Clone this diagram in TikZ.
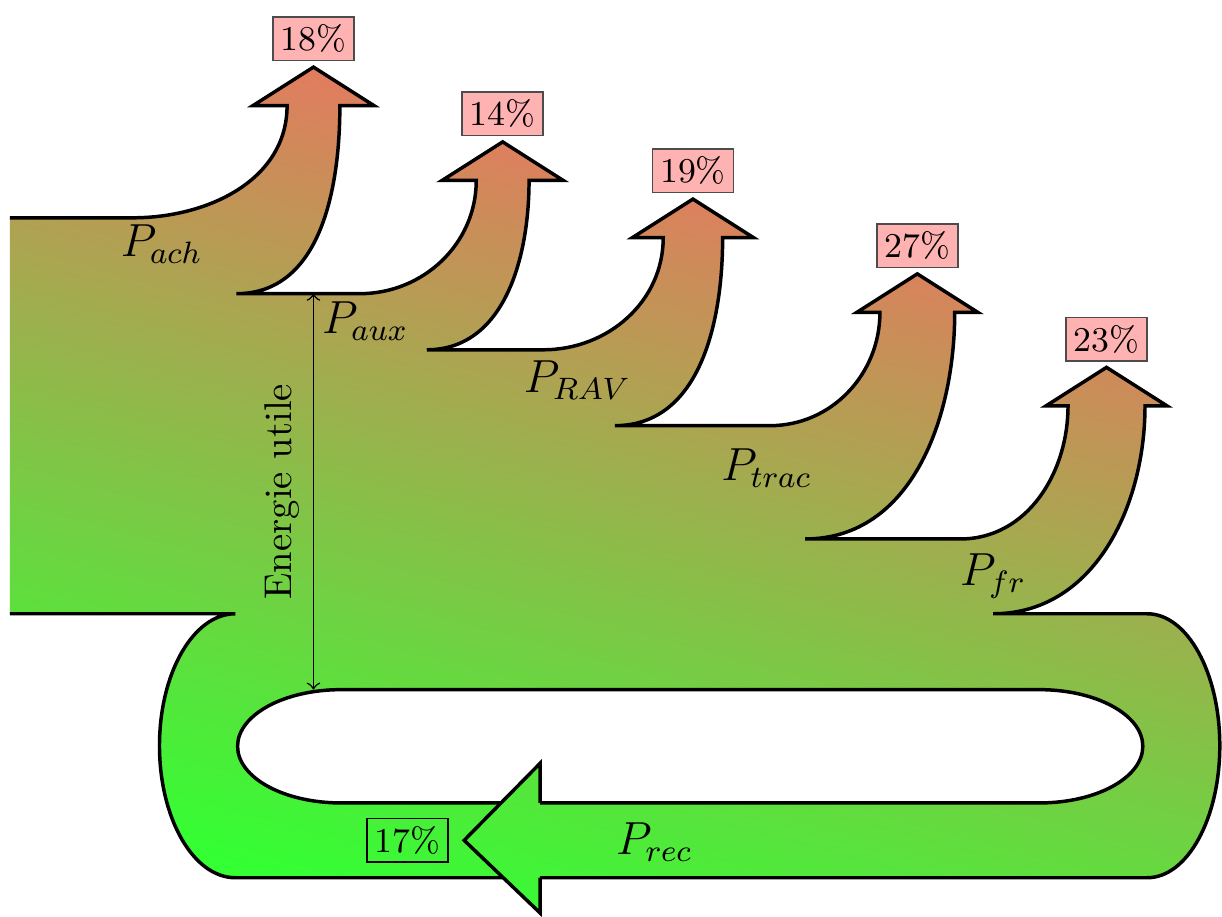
\documentclass[tikz,border=0pt]{standalone}
\usepackage{tikz}
\usetikzlibrary{positioning}

% upper contour of the flow: the five outgoing branches, then the right end of the loop
\newcommand{\flowtop}{%
  (0.09,6.35) -- (1.21,6.35) to[out=0,in=-90] (2.61,7.37) -- (2.30,7.37) -- (tip1) -- (3.40,7.37) -- (3.09,7.37)
  to[out=-90,in=0] (2.15,5.66) -- (3.27,5.66) to[out=0,in=-90] (4.33,6.69) -- (4.02,6.69) -- (tip2) -- (5.12,6.69) -- (4.81,6.69)
  to[out=-90,in=0] (3.88,5.15) -- (4.94,5.15) to[out=0,in=-90] (6.03,6.17) -- (5.75,6.17) -- (tip3) -- (6.85,6.17) -- (6.57,6.17)
  to[out=-90,in=0] (5.59,4.46) -- (7.00,4.46) to[out=0,in=-90] (8.00,5.49) -- (7.79,5.49) -- (tip4) -- (8.89,5.49) -- (8.68,5.49)
  to[out=-90,in=0] (7.32,3.43) -- (8.73,3.43) to[out=0,in=-90] (9.71,4.64) -- (9.51,4.64) -- (tip5) -- (10.61,4.64) -- (10.41,4.64)
  to[out=-90,in=0] (9.03,2.75) -- (10.43,2.75) arc[start angle=90, end angle=-90, x radius=0.66, y radius=1.2]}

\tikzset{
  flow/.style={top color=red!60, bottom color=green!80, shading angle=-15},
  edgeline/.style={line width=0.9pt},
  pct/.style={draw=black!70, fill=red!30, inner sep=2pt, font=\small},
  lbl/.style={font=\large},
}

\begin{document}
\begin{tikzpicture}
    \useasboundingbox (0,0) rectangle (11.11,8.33);

    \coordinate (tip1) at (2.85,7.72);
    \coordinate (tip2) at (4.57,7.04);
    \coordinate (tip3) at (6.30,6.52);
    \coordinate (tip4) at (8.34,5.84);
    \coordinate (tip5) at (10.06,4.99);
    \coordinate (rectip) at (4.22,0.69);

    % Flow with the hole of the loop and the recovery arrow head
    \shade[flow] \flowtop -- (2.14,0.35)
        arc[start angle=270, end angle=90, x radius=0.69, y radius=1.2] -- (0.09,2.75) -- cycle
        (9.45,2.06) -- (3.10,2.06) arc[start angle=90, end angle=270, x radius=0.94, y radius=0.515]
        -- (9.45,1.03) arc[start angle=-90, end angle=90, x radius=0.94, y radius=0.515] -- cycle
        (4.91,1.39) -- (4.91,0.03) -- (rectip) -- cycle;

    % Contours
    \draw[edgeline] \flowtop -- (4.91,0.35);
    \draw[edgeline] (4.575,0.35) -- (2.14,0.35)
        arc[start angle=270, end angle=90, x radius=0.69, y radius=1.2] -- (0.09,2.75);
    \draw[edgeline] (4.91,1.03) -- (9.45,1.03)
        arc[start angle=-90, end angle=90, x radius=0.94, y radius=0.515] -- (3.10,2.06)
        arc[start angle=90, end angle=270, x radius=0.94, y radius=0.515] -- (4.555,1.03);
    \draw[edgeline] (4.91,1.03) -- (4.91,1.39) -- (rectip) -- (4.91,0.03) -- (4.91,0.35);

    % Shares
    \node[pct, above=1.5pt of tip1] (p18) {18\%};
    \node[pct, above=1.5pt of tip2] (p14) {14\%};
    \node[pct, above=1.5pt of tip3] (p19) {19\%};
    \node[pct, above=1.5pt of tip4] (p27) {27\%};
    \node[pct, above=1.5pt of tip5] (p23) {23\%};
    \node[draw, inner sep=2pt, font=\small, left=4pt of rectip] (p17) {17\%};

    % Powers
    \node[lbl] (ach) at (1.47,6.11) {$P_{ach}$};
    \node[lbl] (aux) at (3.32,5.41) {$P_{aux}$};
    \node[lbl] (rav) at (5.25,4.87) {$P_{RAV}$};
    \node[lbl] (trac) at (6.97,4.07) {$P_{trac}$};
    \node[lbl] (fr) at (9.03,3.09) {$P_{fr}$};
    \node[lbl] (rec) at (5.95,0.67) {$P_{rec}$};

    % Useful energy
    \coordinate (eutop) at (2.85,5.66);
    \coordinate (eubot) at (2.85,2.06);
    \draw[<->] (eubot) -- node[above, sloped] {Energie utile} (eutop);
\end{tikzpicture}
\end{document}
